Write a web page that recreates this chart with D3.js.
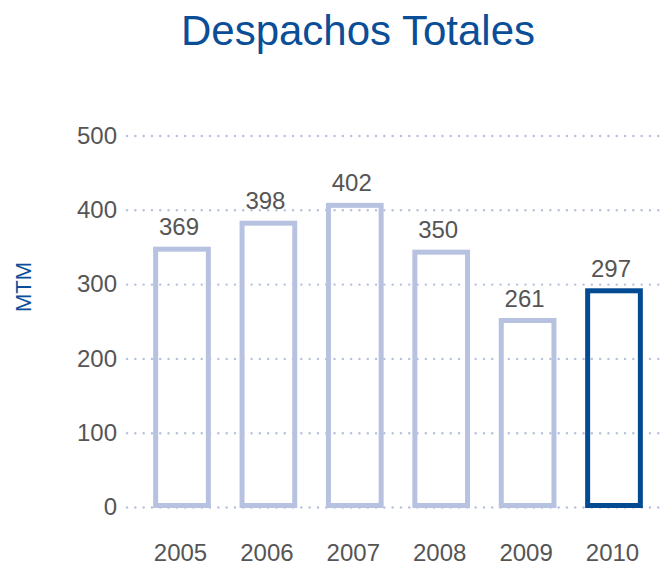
<!DOCTYPE html>
<html><head><meta charset="utf-8">
<script src="https://cdn.jsdelivr.net/npm/d3@7"></script>
<style>
html,body{margin:0;padding:0;background:#fff;}
svg{display:block;font-family:"Liberation Sans",Arial,Helvetica,sans-serif;}
</style></head>
<body>
<script>
const years = ["2005","2006","2007","2008","2009","2010"];
const labelValues = [369, 398, 402, 350, 261, 297];   // printed labels
const barValues = [347, 382, 406, 343, 251, 291];     // bar heights as drawn
const yTicks = [0, 100, 200, 300, 400, 500];
const title = "Despachos Totales";
const yTitle = "MTM";

const W = 660, H = 566;
const light = "#b7c1e0", dark = "#024b93", textGrey = "#555555", blue = "#0b4e98";

const svg = d3.select("body").append("svg").attr("width", W).attr("height", H);

const y = d3.scaleLinear().domain([0, 500]).range([507, 135.5]);
const x = d3.scaleBand().domain(years).range([138.8, 657.2]).paddingInner(0.39).paddingOuter(0.195);

// title
svg.append("text").attr("x", 358).attr("y", 45).attr("text-anchor", "middle")
  .attr("font-size", 42).attr("fill", blue).text(title);

// y axis title
svg.append("text").attr("transform", "translate(31,287) rotate(-90)")
  .attr("text-anchor", "middle").attr("font-size", 22).attr("fill", blue).text(yTitle);

// y axis with grid
const yAxis = svg.append("g").attr("transform", "translate(125,0)")
  .call(d3.axisLeft(y).tickValues(yTicks).tickSize(-(W - 125)).tickPadding(8));
yAxis.select(".domain").remove();
yAxis.selectAll(".tick line").attr("stroke", light).attr("stroke-width", 2.4)
  .attr("stroke-linecap", "round").attr("stroke-dasharray", "0.1,8.2").attr("x1", 2);
yAxis.selectAll(".tick text").attr("font-size", 24).attr("fill", textGrey)
  .attr("font-family", "Liberation Sans, Arial, sans-serif");

// bars
svg.append("g").selectAll("rect").data(years).join("rect")
  .attr("x", d => x(d))
  .attr("width", x.bandwidth())
  .attr("y", (d, i) => y(barValues[i]))
  .attr("height", (d, i) => y(0) - 1.5 - y(barValues[i]))
  .attr("fill", "none")
  .attr("stroke", (d, i) => i === years.length - 1 ? dark : light)
  .attr("stroke-width", 5);

// value labels
svg.append("g").selectAll("text").data(years).join("text")
  .attr("x", d => x(d) + x.bandwidth() / 2 - 3)
  .attr("y", (d, i) => y(barValues[i]) - 14)
  .attr("text-anchor", "middle").attr("font-size", 24).attr("fill", textGrey)
  .text((d, i) => labelValues[i]);

// x axis labels
const xAxis = svg.append("g").attr("transform", "translate(0,543)")
  .call(d3.axisBottom(x).tickSize(0).tickPadding(0));
xAxis.select(".domain").remove();
xAxis.selectAll(".tick text").attr("font-size", 24).attr("fill", textGrey)
  .attr("font-family", "Liberation Sans, Arial, sans-serif")
  .attr("dy", "0.75em").attr("dx", -1.5);
</script>
</body></html>
